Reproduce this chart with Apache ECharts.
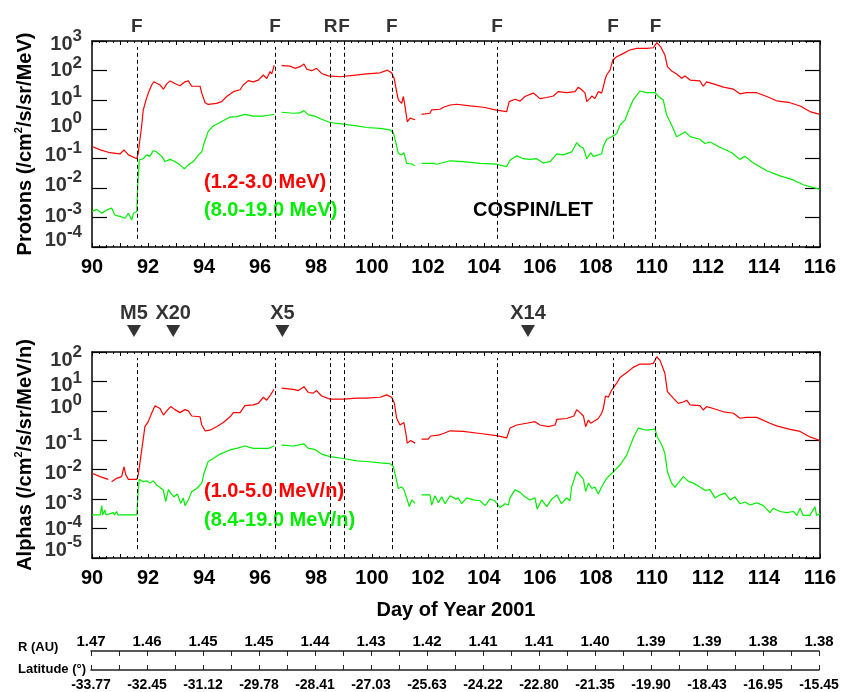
<!DOCTYPE html>
<html>
<head>
<meta charset="utf-8">
<script src="https://cdn.jsdelivr.net/npm/echarts@6.0.0/dist/echarts.min.js"></script>
<style>
  html, body { margin: 0; padding: 0; background: #fff; }
  #chart { width: 843px; height: 692px; }
</style>
</head>
<body>
<div id="chart"></div>
<script>
// event lines (F = flare shock, R = reverse shock) and flare markers
var eventDays = [91.6, 96.54, 98.52, 99.0, 100.71, 104.47, 108.61, 110.13];
var eventLabels = ['F', 'F', 'R', 'F', 'F', 'F', 'F', 'F'];
var flareDays = [91.5, 92.9, 96.8, 105.57];
var flareLabels = ['M5', 'X20', 'X5', 'X14'];

// decade ticks of the two flux axes
var protonTicks = [1e-4, 1e-3, 1e-2, 1e-1, 1, 10, 100, 1000];
var alphaTicks = [1e-5, 1e-4, 1e-3, 1e-2, 1e-1, 1, 10, 100];

// spacecraft position, one value every 2 days (90 .. 116)
var rLabels = ['1.47', '1.46', '1.45', '1.45', '1.44', '1.43', '1.42', '1.41', '1.41', '1.40', '1.39', '1.39', '1.38', '1.38'];
var latLabels = ['-33.77', '-32.45', '-31.12', '-29.78', '-28.41', '-27.03', '-25.63', '-24.22', '-22.80', '-21.35', '-19.90', '-18.43', '-16.95', '-15.45'];

// protons 1.2-3.0 MeV  [day, flux]
var protonLow = [
  [90.0,0.26],[90.3,0.2],[90.64,0.16],[91.0,0.145],[91.14,0.2],[91.3,0.135],[91.6,0.10],[91.65,0.15],[91.71,0.44],[91.77,1.2],
  [91.83,4.5],[91.93,10],[92.01,17],[92.13,32],[92.21,41],[92.43,32],[92.55,23],[92.67,35],[92.79,44],[92.96,36],[93.14,30],
  [93.32,41],[93.44,44],[93.56,29],[93.74,29],[93.86,29],[93.92,17],[94.04,8],[94.15,7],[94.45,7.6],[94.63,8.7],[94.81,13],
  [95.05,19],[95.29,22],[95.4,32],[95.58,45],[95.76,41],[95.94,47],[96.12,70],[96.24,53],[96.36,91],[96.42,76],[96.51,150],[96.6,null],
  [96.77,145],[97.07,140],[97.25,118],[97.43,134],[97.57,165],[97.67,110],[97.85,98],[98.02,118],[98.2,79],[98.44,65],[98.86,61],
  [99.33,68],[99.81,76],[100.29,83],[100.55,102],[100.7,83],[100.79,54],[100.88,19],[100.94,10],[101.06,7.6],[101.12,13],[101.18,5.9],
  [101.26,1.8],[101.36,2.4],[101.54,2.1],[101.65,null],
  [101.77,3.2],[102.07,3.5],[102.13,4.6],[102.43,4.8],[102.55,5.6],[102.79,6.7],[103.02,7.1],[103.5,6.2],[103.98,5.6],[104.45,4.5],
  [104.81,4.0],[104.9,8.7],[105.11,10.5],[105.29,9.1],[105.46,13],[105.76,17],[106.0,11],[106.24,12],[106.48,13.5],[106.65,19],
  [106.95,17.5],[107.25,19],[107.37,27],[107.49,22],[107.61,17],[107.67,8.7],[107.79,11.2],[107.85,13.5],[107.96,11],[108.08,19],
  [108.2,17],[108.26,27],[108.32,48],[108.38,70],[108.5,102],[108.6,225],[108.74,293],[108.98,380],[109.21,495],[109.45,560],
  [109.81,560],[110.05,590],[110.17,880],[110.31,635],[110.46,335],[110.55,134],[110.7,96],[110.88,76],[111.06,54],[111.18,65],
  [111.36,47],[111.71,44],[111.83,29],[111.95,41],[112.19,35],[112.55,27],[112.91,23],[113.14,16],[113.38,17.5],[113.74,17.5],
  [114.1,13],[114.45,9.3],[114.93,8],[115.29,6.2],[115.64,4],[116.0,3.2]
];

// protons 8.0-19.0 MeV
var protonHigh = [
  [90.0,1.6e-3],[90.17,1.9e-3],[90.35,1.4e-3],[90.52,1.8e-3],[90.7,2.1e-3],[90.82,1.2e-3],[91.0,1.1e-3],[91.18,9.5e-4],[91.3,1.4e-3],
  [91.42,8.3e-4],[91.48,1.4e-3],[91.6,1.6e-3],[91.63,1.1e-2],[91.69,0.091],[91.83,0.10],[91.95,0.135],[92.07,0.12],[92.19,0.19],
  [92.31,0.17],[92.49,0.12],[92.61,0.08],[92.79,0.095],[92.96,0.08],[93.14,0.062],[93.3,0.045],[93.44,0.062],[93.62,0.08],[93.8,0.135],
  [93.92,0.17],[94.0,0.33],[94.15,0.83],[94.33,1.3],[94.57,1.7],[94.93,2.6],[95.17,2.7],[95.46,3.2],[95.76,2.8],[96.12,2.8],[96.3,3.0],
  [96.5,3.2],[96.6,null],
  [96.77,3.8],[97.19,3.5],[97.43,3.6],[97.57,4.3],[97.73,3.1],[97.96,2.8],[98.2,2.2],[98.5,1.7],[98.98,1.5],[99.45,1.3],[99.81,1.15],
  [100.29,1.07],[100.64,0.95],[100.76,0.78],[100.86,0.33],[100.94,0.15],[101.06,0.135],[101.14,0.16],[101.24,0.069],[101.42,0.066],
  [101.54,0.058],[101.65,null],
  [101.77,0.069],[102.19,0.069],[102.31,0.065],[102.79,0.085],[103.26,0.08],[103.86,0.069],[104.45,0.065],[104.81,0.054],[104.93,0.089],
  [105.17,0.125],[105.4,0.1],[105.64,0.095],[105.88,0.1],[106.12,0.072],[106.36,0.08],[106.6,0.145],[106.83,0.135],[107.13,0.17],
  [107.31,0.35],[107.43,0.26],[107.55,0.23],[107.67,0.1],[107.81,0.16],[107.9,0.12],[108.2,0.145],[108.26,0.26],[108.38,0.46],
  [108.56,0.56],[108.74,0.72],[108.86,1.4],[109.04,2.1],[109.15,4],[109.33,10],[109.57,20],[109.81,17.5],[110.11,17.5],[110.23,13],
  [110.4,10],[110.52,3.1],[110.7,1.4],[110.88,0.56],[111.06,0.69],[111.18,0.83],[111.36,0.56],[111.71,0.46],[111.89,0.33],[112.07,0.37],
  [112.43,0.245],[112.85,0.16],[113.14,0.095],[113.32,0.12],[113.62,0.072],[114.1,0.039],[114.57,0.026],[115.05,0.019],[115.4,0.013],
  [116.0,0.0091]
];

// alphas 1.0-5.0 MeV/n
var alphaLow = [
  [90.0,7.6e-3],[90.29,5.8e-3],[90.58,4.7e-3],[90.64,null],[90.7,3.9e-3],[90.88,5.1e-3],[91.06,5.8e-3],[91.14,1.26e-2],[91.21,6.6e-3],
  [91.3,4.7e-3],[91.6,4.7e-3],[91.65,6.6e-3],[91.71,1.66e-2],[91.81,0.08],[91.89,0.29],[92.01,0.43],[92.13,0.83],[92.25,1.5],[92.43,1.2],
  [92.55,0.72],[92.67,1.0],[92.81,1.4],[92.96,1.1],[93.14,0.87],[93.32,1.1],[93.44,1.0],[93.56,0.67],[93.86,0.63],[93.92,0.33],[94.04,0.21],
  [94.21,0.22],[94.45,0.29],[94.69,0.4],[94.93,0.63],[95.05,0.87],[95.29,0.87],[95.46,1.5],[95.76,1.6],[95.94,1.8],[96.12,2.9],[96.24,2.3],
  [96.38,3.5],[96.5,5.4],[96.6,null],
  [96.77,5.9],[97.19,5.4],[97.37,4.9],[97.57,6.6],[97.73,4.2],[97.9,4.0],[98.02,4.9],[98.2,3.2],[98.5,2.5],[98.98,2.5],[99.45,2.7],
  [99.81,2.7],[100.29,2.9],[100.52,3.5],[100.7,2.9],[100.8,1.8],[100.88,0.56],[101.0,0.33],[101.06,0.29],[101.14,0.4],[101.21,0.17],
  [101.26,0.08],[101.38,0.098],[101.54,0.08],[101.65,null],
  [101.77,0.11],[102.01,0.11],[102.09,0.14],[102.37,0.15],[102.55,0.17],[102.79,0.21],[103.26,0.2],[103.86,0.17],[104.45,0.144],
  [104.81,0.12],[104.93,0.26],[105.17,0.33],[105.52,0.38],[105.82,0.43],[106.0,0.33],[106.3,0.29],[106.54,0.33],[106.6,0.51],[106.95,0.55],
  [107.21,0.67],[107.31,1.1],[107.43,0.87],[107.55,0.67],[107.63,0.29],[107.73,0.49],[107.81,0.38],[107.9,0.43],[108.08,0.55],[108.2,0.82],
  [108.26,1.2],[108.34,3.2],[108.44,2.9],[108.56,5.1],[108.74,8.7],[108.86,13.7],[109.1,20],[109.33,30],[109.57,39],[109.93,39],[110.05,41],
  [110.17,69],[110.29,51],[110.46,19],[110.55,4.5],[110.76,2.7],[110.94,1.8],[111.12,2.0],[111.24,2.3],[111.36,1.6],[111.71,1.5],
  [111.83,1.07],[111.95,1.4],[112.19,1.2],[112.55,0.93],[112.91,0.83],[113.14,0.56],[113.38,0.6],[113.74,0.6],[114.21,0.38],[114.45,0.31],
  [114.93,0.235],[115.29,0.2],[115.64,0.13],[116.0,0.098]
];

// alphas 8.4-19.0 MeV/n
var alphaHigh = [
  [90.0,2.9e-4],[90.29,2.9e-4],[90.35,6e-4],[90.38,2.9e-4],[90.46,4.3e-4],[90.5,2.9e-4],[90.76,3.5e-4],[90.8,2.9e-4],[90.88,3.8e-4],
  [90.93,2.9e-4],[91.6,2.9e-4],[91.65,2.0e-3],[91.69,4.7e-3],[91.83,3.9e-3],[91.95,4.2e-3],[92.07,3.5e-3],[92.19,4.2e-3],[92.31,3.0e-3],
  [92.43,2.5e-3],[92.55,2e-3],[92.63,8.3e-4],[92.73,2.1e-3],[92.81,1.6e-3],[92.93,1.2e-3],[93.05,1.5e-3],[93.17,7.2e-4],[93.26,1.1e-3],
  [93.32,6e-4],[93.44,9.4e-4],[93.56,1.8e-3],[93.74,2.3e-3],[93.92,3.5e-3],[94.0,7.6e-3],[94.15,1.9e-2],[94.33,2.4e-2],[94.57,3.4e-2],
  [94.93,4.7e-2],[95.17,5.3e-2],[95.46,6.4e-2],[95.76,5.3e-2],[96.12,5.3e-2],[96.3,5.3e-2],[96.5,6.4e-2],[96.6,null],
  [96.77,6.9e-2],[97.19,6.4e-2],[97.57,7.5e-2],[97.73,5.3e-2],[97.96,4.9e-2],[98.2,3.4e-2],[98.5,2.8e-2],[98.98,2.4e-2],[99.45,2.0e-2],
  [99.81,1.9e-2],[100.29,1.7e-2],[100.64,1.6e-2],[100.76,1.3e-2],[100.86,5.1e-3],[100.94,2.3e-3],[101.06,2.6e-3],[101.14,2.1e-3],
  [101.24,1.1e-3],[101.33,5.6e-4],[101.42,9.4e-4],[101.54,7.2e-4],[101.65,null],
  [101.77,1.4e-3],[102.07,1.4e-3],[102.13,6.3e-4],[102.25,1.3e-3],[102.37,7.5e-4],[102.49,1.2e-3],[102.61,7e-4],[102.79,1.3e-3],
  [103.0,1.0e-3],[103.08,1.1e-3],[103.2,7e-4],[103.38,1.1e-3],[103.62,9.4e-4],[103.86,8.8e-4],[104.04,6e-4],[104.21,1e-3],[104.39,8.8e-4],
  [104.57,5.2e-4],[104.75,7e-4],[104.87,6.3e-4],[104.93,1.1e-3],[105.11,2.1e-3],[105.29,1.7e-3],[105.46,1.2e-3],[105.64,9.4e-4],
  [105.82,1.1e-3],[105.9,4.6e-4],[106.06,9.4e-4],[106.24,5.6e-4],[106.42,1e-3],[106.6,1.4e-3],[106.77,7e-4],[106.95,1.1e-3],[107.07,8.8e-4],
  [107.13,2.6e-3],[107.31,8.5e-3],[107.43,6.6e-3],[107.55,4.7e-3],[107.63,1.8e-3],[107.73,3.5e-3],[107.85,2.3e-3],[107.96,2.6e-3],
  [108.08,1.5e-3],[108.2,2.6e-3],[108.38,5.1e-3],[108.62,8.5e-3],[108.86,1.45e-2],[109.1,3.2e-2],[109.33,0.12],[109.51,0.26],[109.81,0.22],
  [110.11,0.24],[110.19,0.13],[110.35,6.9e-2],[110.46,3.6e-2],[110.55,8.5e-3],[110.7,3.5e-3],[110.82,2.5e-3],[110.94,3.6e-3],[111.12,5.8e-3],
  [111.3,4e-3],[111.48,3.5e-3],[111.71,2.6e-3],[111.89,2e-3],[112.07,2.1e-3],[112.25,1.1e-3],[112.43,1.4e-3],[112.61,1.6e-3],[112.79,9.4e-4],
  [112.96,1.2e-3],[113.14,7e-4],[113.32,8e-4],[113.5,6.3e-4],[113.74,7.5e-4],[113.98,6e-4],[114.21,3.5e-4],[114.33,4.9e-4],[114.57,3.8e-4],
  [114.81,3.5e-4],[115.05,3.8e-4],[115.17,2.8e-4],[115.29,4.9e-4],[115.4,2.8e-4],[115.64,2.8e-4],[115.82,5.5e-4],[115.88,2.8e-4],[116.0,3.2e-4]
];

var FONT = '"Liberation Sans", Arial, Helvetica, sans-serif';
var RED = '#ff0000';
var GREEN = '#00ee00';

// "10" plus raised exponent
var powerRich = {
  b: {fontSize: 20, fontWeight: 'bold', fontFamily: FONT, color: '#000', lineHeight: 20, verticalAlign: 'bottom'},
  s: {fontSize: 17, fontWeight: 'bold', fontFamily: FONT, color: '#000', lineHeight: 17, padding: [0, 0, 9, 0], verticalAlign: 'bottom'}
};

// vertical nudges of the decade labels (px, down), as the original crowds them
var protonShift = {'3': 6, '2': 3, '1': 3, '0': 0, '-1': 0, '-2': 0, '-3': 2, '-4': -4};
var alphaShift = {'2': 11, '1': 7, '0': 0, '-1': 6, '-2': 7, '-3': 7, '-4': 4, '-5': -5};

function dayAxis(grid, position, showLabels) {
  return {
    type: 'value', gridIndex: grid, position: position, min: 90, max: 116, interval: 1,
    axisLine: {show: true, onZero: false, lineStyle: {color: '#000', width: 1.5}},
    axisTick: {show: true, inside: true, length: 4, lineStyle: {color: '#000', width: 1}},
    minorTick: {show: true, splitNumber: 4, length: 2, lineStyle: {color: '#000', width: 1}},
    splitLine: {show: false},
    axisLabel: {
      show: showLabels, margin: 10, fontSize: 20, fontWeight: 'bold', color: '#000', fontFamily: FONT,
      formatter: function (v) { return v % 2 === 0 ? String(v) : ''; }
    }
  };
}

function fluxAxis(grid, position, minExp, maxExp, title) {
  var ax = {
    type: 'log', logBase: 10, gridIndex: grid, position: position,
    min: Math.pow(10, minExp), max: Math.pow(10, maxExp),
    axisLine: {show: true, onZero: false, lineStyle: {color: '#000', width: 1.5}},
    axisTick: {show: true, inside: true, length: 15, lineStyle: {color: '#000', width: 1.2}},
    minorTick: {show: false},
    splitLine: {show: false},
    axisLabel: {show: false}
  };
  if (title) {
    ax.name = title;
    ax.nameLocation = 'middle';
    ax.nameGap = 57;
    ax.nameMoveOverlap = false;
    ax.nameRotate = 90;
    ax.nameTextStyle = {
      rich: {
        t: {fontSize: 20, fontWeight: 'bold', fontFamily: FONT, color: '#000', lineHeight: 22, verticalAlign: 'bottom'},
        u: {fontSize: 11, fontWeight: 'bold', fontFamily: FONT, color: '#000', lineHeight: 11, verticalAlign: 'top'}
      }
    };
  }
  return ax;
}

// decade labels drawn at the left edge of a panel
function decadeLabels(ticks, shift, xi, yi) {
  return {
    name: 'decades', type: 'scatter', xAxisIndex: xi, yAxisIndex: yi, silent: true, clip: false,
    symbolSize: 0,
    data: ticks.map(function (v) {
      var e = Math.round(Math.log10(v));
      return {value: [90, v], label: {offset: [0, -3 + (shift[e] || 0)]}};
    }),
    label: {
      show: true, position: 'left', distance: 10,
      formatter: function (p) { return '{b|10}{s|' + Math.round(Math.log10(p.value[1])) + '}'; },
      rich: powerRich
    }
  };
}

function hiddenX(grid) { return {type: 'value', gridIndex: grid, min: 90, max: 116, show: false}; }
function hiddenY(grid) { return {type: 'value', gridIndex: grid, min: 0, max: 1, show: false}; }

function stripAxis(position, labels, size, margin) {
  return {
    type: 'value', gridIndex: 4, position: position, min: 90, max: 116, interval: 1,
    axisLine: {show: true, onZero: false, lineStyle: {color: '#222', width: 1.5}},
    axisTick: {show: true, inside: true, length: 5, lineStyle: {color: '#222', width: 1}},
    splitLine: {show: false},
    axisLabel: {
      margin: margin, fontSize: size, fontWeight: 'bold', color: '#000', fontFamily: FONT,
      formatter: function (v) { return (v - 90) % 2 === 0 ? labels[(v - 90) / 2] : ''; }
    }
  };
}

function eventLines(lo, hi) {
  return {
    symbol: ['none', 'none'], silent: true, animation: false,
    label: {show: false},
    lineStyle: {color: '#000', type: [4, 3], width: 1},
    data: eventDays.map(function (d) { return [{coord: [d, lo]}, {coord: [d, hi]}]; })
  };
}

function fluxLine(name, data, color, xi, yi, mark) {
  var s = {
    name: name, type: 'line', data: data, xAxisIndex: xi, yAxisIndex: yi,
    showSymbol: false, symbol: 'none', connectNulls: false,
    lineStyle: {color: color, width: 1.2}, itemStyle: {color: color}
  };
  if (mark) s.markLine = mark;
  return s;
}

var chart = echarts.init(document.getElementById('chart'));

var option = {
  animation: false,
  backgroundColor: '#fff',
  textStyle: {fontFamily: FONT},
  grid: [
    {left: 92, top: 41, width: 728, height: 206},
    {left: 92, top: 352, width: 728, height: 206},
    {left: 92, top: 325, width: 728, height: 12},
    {left: 92, top: 17, width: 728, height: 20},
    {left: 91, top: 651, width: 728, height: 19}
  ],
  xAxis: [
    dayAxis(0, 'bottom', true),
    dayAxis(0, 'top', false),
    Object.assign(dayAxis(1, 'bottom', true), {
      name: 'Day of Year 2001', nameLocation: 'middle', nameGap: 42,
      nameTextStyle: {fontSize: 20, fontWeight: 'bold', color: '#000', fontFamily: FONT}
    }),
    dayAxis(1, 'top', false),
    hiddenX(2),
    hiddenX(3),
    stripAxis('top', rLabels, 15, 2),
    stripAxis('bottom', latLabels, 14, 8)
  ],
  yAxis: [
    fluxAxis(0, 'left', -4, 3, '{t|Protons (/cm}{u|2}{t|/s/sr/MeV)}'),
    fluxAxis(0, 'right', -4, 3, null),
    fluxAxis(1, 'left', -5, 2, '{t|Alphas (/cm}{u|2}{t|/s/sr/MeV/n)}'),
    fluxAxis(1, 'right', -5, 2, null),
    hiddenY(2),
    hiddenY(3),
    {type: 'value', gridIndex: 4, min: 0, max: 1, show: false}
  ],
  series: [
    fluxLine('p 1.2-3.0 MeV', protonLow, RED, 0, 0, eventLines(1.9e-4, 630)),
    fluxLine('p 8.0-19.0 MeV', protonHigh, GREEN, 0, 0),
    fluxLine('He 1.0-5.0 MeV/n', alphaLow, RED, 2, 2, eventLines(2e-5, 63)),
    fluxLine('He 8.4-19.0 MeV/n', alphaHigh, GREEN, 2, 2),
    decadeLabels(protonTicks, protonShift, 0, 0),
    decadeLabels(alphaTicks, alphaShift, 2, 2),
    {
      name: 'flares', type: 'scatter', xAxisIndex: 4, yAxisIndex: 4,
      data: flareDays.map(function (d) { return [d, 0.5]; }),
      symbol: 'triangle', symbolRotate: 180, symbolSize: [14, 12],
      itemStyle: {color: '#000'},
      label: {
        show: true, position: 'top', distance: 2,
        formatter: function (p) { return flareLabels[p.dataIndex]; },
        fontSize: 20, fontWeight: 'bold', color: '#000', fontFamily: FONT
      }
    },
    {
      name: 'events', type: 'scatter', xAxisIndex: 5, yAxisIndex: 5,
      data: eventDays.map(function (d) { return [d, 0.5]; }),
      symbolSize: 1, itemStyle: {color: 'rgba(0,0,0,0)'},
      label: {
        show: true, position: 'inside',
        formatter: function (p) { return eventLabels[p.dataIndex]; },
        fontSize: 19, fontWeight: 'bold', color: '#000', fontFamily: FONT
      }
    }
  ],
  graphic: [
    {type: 'text', left: 204, top: 172, style: {text: '(1.2-3.0 MeV)', fill: RED, font: 'bold 20px ' + FONT}},
    {type: 'text', left: 204, top: 200, style: {text: '(8.0-19.0 MeV)', fill: GREEN, font: 'bold 20px ' + FONT}},
    {type: 'text', left: 473, top: 200, style: {text: 'COSPIN/LET', fill: '#000', font: 'bold 20px ' + FONT}},
    {type: 'text', left: 204, top: 481, style: {text: '(1.0-5.0 MeV/n)', fill: RED, font: 'bold 20px ' + FONT}},
    {type: 'text', left: 204, top: 510, style: {text: '(8.4-19.0 MeV/n)', fill: GREEN, font: 'bold 20px ' + FONT}},
    {type: 'text', left: 18, top: 641, style: {text: 'R (AU)', fill: '#000', font: 'bold 13px ' + FONT}},
    {type: 'text', left: 18, top: 663, style: {text: 'Latitude (°)', fill: '#000', font: 'bold 13px ' + FONT}}
  ]
};

chart.setOption(option);
</script>
</body>
</html>
